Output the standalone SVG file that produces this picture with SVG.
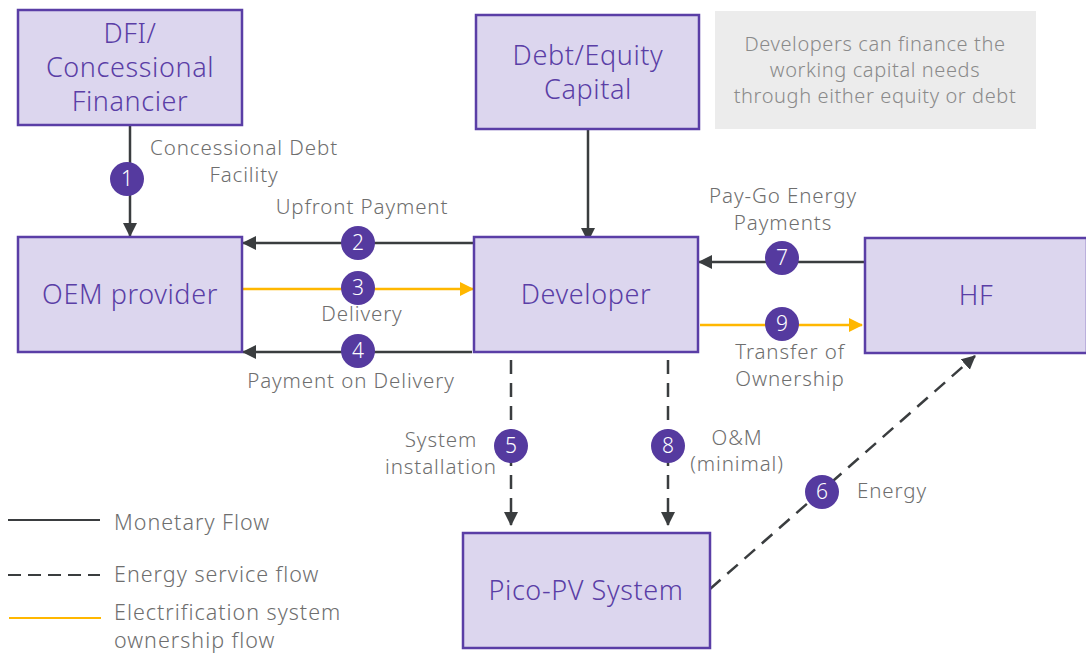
<svg xmlns="http://www.w3.org/2000/svg" width="1086" height="654" viewBox="0 0 1086 654">
<style>
.box{fill:#dcd6ee;stroke:#5a3ea6;stroke-width:2.5}
.bt{font-family:"Noto Sans",Lato,sans-serif;font-weight:300;font-size:27px;letter-spacing:0.6px;fill:#5a3ea6;text-anchor:middle}
.lb{font-family:"Noto Sans",Lato,sans-serif;font-weight:300;font-size:20.5px;letter-spacing:0.9px;fill:#6e6e6e;text-anchor:middle}
.note{font-family:"Noto Sans",Lato,sans-serif;font-weight:300;font-size:20px;letter-spacing:0.6px;fill:#8a8a8a;text-anchor:middle}
.m{stroke:#3a3d3f;stroke-width:2.5;fill:none}
.d{stroke:#3a3d3f;stroke-width:2.5;fill:none;stroke-dasharray:14 9}
.y{stroke:#ffb700;stroke-width:2.5;fill:none}
.c{fill:#553a9f}
.n{font-family:"Noto Sans",Lato,sans-serif;font-weight:300;font-size:21px;fill:#fff;text-anchor:middle}
.lg{font-family:"Noto Sans",Lato,sans-serif;font-weight:300;font-size:21.5px;letter-spacing:1px;fill:#6e6e6e}
</style>
<defs>
<marker id="ak" markerUnits="userSpaceOnUse" markerWidth="16" markerHeight="16" refX="13" refY="7" orient="auto"><path d="M0,0 L14,7 L0,14 Z" fill="#3a3d3f"/></marker>
<marker id="ay" markerUnits="userSpaceOnUse" markerWidth="16" markerHeight="16" refX="13" refY="7" orient="auto"><path d="M0,0 L14,7 L0,14 Z" fill="#ffb700"/></marker>
</defs>
<rect width="1086" height="654" fill="#fff"/>
<g id="connectors">
<line class="m" x1="130" y1="125" x2="130" y2="236" marker-end="url(#ak)"/>
<line class="m" x1="474" y1="243" x2="243" y2="243" marker-end="url(#ak)"/>
<line class="y" x1="243" y1="289" x2="473" y2="289" marker-end="url(#ay)"/>
<line class="m" x1="472" y1="352" x2="243" y2="352" marker-end="url(#ak)"/>
<line class="m" x1="588" y1="129" x2="588" y2="241" marker-end="url(#ak)"/>
<line class="m" x1="864" y1="262" x2="699" y2="262" marker-end="url(#ak)"/>
<line class="y" x1="700" y1="325" x2="862" y2="325" marker-end="url(#ay)"/>
<line class="d" x1="511" y1="360" x2="511" y2="525" marker-end="url(#ak)"/>
<line class="d" x1="668" y1="360" x2="668" y2="525" marker-end="url(#ak)"/>
<line class="d" x1="710" y1="589" x2="975" y2="356" marker-end="url(#ak)"/>
<circle class="c" cx="127" cy="179" r="17"/><text class="n" x="127" y="186">1</text>
<circle class="c" cx="358" cy="243" r="17"/><text class="n" x="358" y="250">2</text>
<circle class="c" cx="358" cy="288" r="17"/><text class="n" x="358" y="295">3</text>
<circle class="c" cx="358" cy="351" r="17"/><text class="n" x="358" y="358">4</text>
<circle class="c" cx="511" cy="446" r="17"/><text class="n" x="511" y="453">5</text>
<circle class="c" cx="822" cy="492" r="17"/><text class="n" x="822" y="499">6</text>
<circle class="c" cx="782" cy="258" r="17"/><text class="n" x="782" y="265">7</text>
<circle class="c" cx="668" cy="446" r="17"/><text class="n" x="668" y="453">8</text>
<circle class="c" cx="782" cy="324" r="17"/><text class="n" x="782" y="331">9</text>
<text class="lb" x="244" y="155">Concessional Debt</text>
<text class="lb" x="244" y="182">Facility</text>
<text class="lb" x="362" y="214">Upfront Payment</text>
<text class="lb" x="362" y="321">Delivery</text>
<text class="lb" x="351" y="388">Payment on Delivery</text>
<text class="lb" x="783" y="203">Pay-Go Energy</text>
<text class="lb" x="783" y="230">Payments</text>
<text class="lb" x="790" y="359">Transfer of</text>
<text class="lb" x="790" y="386">Ownership</text>
<text class="lb" x="441" y="447">System</text>
<text class="lb" x="441" y="474">installation</text>
<text class="lb" x="737" y="445">O&amp;M</text>
<text class="lb" x="737" y="471">(minimal)</text>
<text class="lb" x="892" y="498">Energy</text>
</g>
<g id="dfi"><rect class="box" x="18" y="10" width="224" height="115"/>
<text class="bt" x="130" y="43">DFI/</text><text class="bt" x="130" y="77">Concessional</text><text class="bt" x="130" y="111">Financier</text></g>
<g id="capital"><rect class="box" x="476" y="15" width="223" height="114"/>
<text class="bt" x="588" y="65">Debt/Equity</text><text class="bt" x="588" y="99">Capital</text></g>
<g id="note"><rect x="715" y="11" width="321" height="118" fill="#ececec"/>
<text class="note" x="875" y="51">Developers can finance the</text>
<text class="note" x="875" y="77">working capital needs</text>
<text class="note" x="875" y="103">through either equity or debt</text></g>
<g id="oem"><rect class="box" x="18" y="237" width="224" height="115"/>
<text class="bt" x="130" y="304">OEM provider</text></g>
<g id="developer"><rect class="box" x="474" y="237" width="224" height="115"/>
<text class="bt" x="586" y="304">Developer</text></g>
<g id="hf"><rect class="box" x="865" y="238" width="222" height="115"/>
<text class="bt" x="976" y="305">HF</text></g>
<g id="pico"><rect class="box" x="463" y="533" width="247" height="115"/>
<text class="bt" x="586" y="600">Pico-PV System</text></g>
<g id="legend">
<line class="m" x1="8" y1="520" x2="100" y2="520" style="stroke-width:2"/>
<text class="lg" x="114" y="530">Monetary Flow</text>
<line class="d" x1="8" y1="575" x2="100" y2="575" style="stroke-dasharray:13 7;stroke-width:2"/>
<text class="lg" x="114" y="582">Energy service flow</text>
<line class="y" x1="9" y1="618" x2="101" y2="618" style="stroke-width:2"/>
<text class="lg" x="114" y="620">Electrification system</text>
<text class="lg" x="114" y="648">ownership flow</text>
</g>
</svg>
